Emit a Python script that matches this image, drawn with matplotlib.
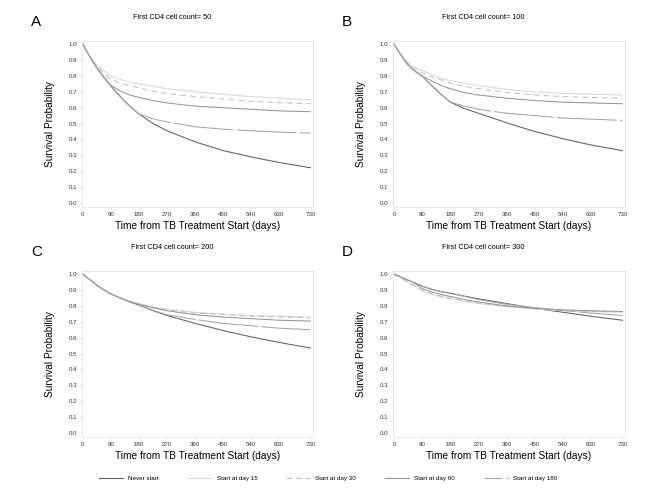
import matplotlib
matplotlib.use("Agg")
import matplotlib.pyplot as plt
from matplotlib.lines import Line2D

plt.rcParams['font.family'] = ['Liberation Sans', 'DejaVu Sans']
plt.rcParams['lines.scale_dashes'] = False

days = [0, 15, 30, 45, 60, 90, 120, 150, 180, 225, 270, 360, 450, 540, 630, 730]

series_names = ["Never start", "Start at day 15", "Start at day 30",
                "Start at day 60", "Start at day 180"]

# panel A, first CD4 = 50
a_never = [1.0, 0.945, 0.895, 0.85, 0.81, 0.735, 0.67, 0.61, 0.56, 0.50, 0.455, 0.385, 0.33, 0.29, 0.255, 0.222]
a_d15 = [1.0, 0.945, 0.90, 0.87, 0.845, 0.80, 0.78, 0.76, 0.75, 0.735, 0.72, 0.70, 0.685, 0.67, 0.66, 0.65]
a_d30 = [1.0, 0.945, 0.895, 0.86, 0.83, 0.78, 0.755, 0.74, 0.725, 0.705, 0.69, 0.67, 0.655, 0.64, 0.632, 0.625]
a_d60 = [1.0, 0.945, 0.895, 0.85, 0.81, 0.74, 0.705, 0.68, 0.665, 0.645, 0.63, 0.61, 0.60, 0.59, 0.58, 0.575]
a_d180 = [1.0, 0.945, 0.895, 0.85, 0.81, 0.735, 0.67, 0.61, 0.56, 0.53, 0.51, 0.48, 0.465, 0.455, 0.447, 0.44]

# panel B, first CD4 = 100
b_never = [1.0, 0.955, 0.91, 0.87, 0.84, 0.80, 0.74, 0.685, 0.635, 0.595, 0.565, 0.505, 0.45, 0.405, 0.365, 0.33]
b_d15 = [1.0, 0.955, 0.915, 0.885, 0.86, 0.835, 0.81, 0.785, 0.77, 0.755, 0.74, 0.715, 0.70, 0.69, 0.685, 0.68]
b_d30 = [1.0, 0.955, 0.91, 0.875, 0.85, 0.82, 0.795, 0.775, 0.755, 0.735, 0.72, 0.695, 0.68, 0.67, 0.665, 0.66]
b_d60 = [1.0, 0.955, 0.91, 0.87, 0.84, 0.80, 0.77, 0.74, 0.72, 0.695, 0.68, 0.66, 0.645, 0.635, 0.63, 0.625]
b_d180 = [1.0, 0.955, 0.91, 0.87, 0.84, 0.80, 0.74, 0.685, 0.635, 0.61, 0.59, 0.565, 0.55, 0.535, 0.528, 0.52]

# panel C, first CD4 = 200
c_never = [1.0, 0.975, 0.955, 0.93, 0.91, 0.875, 0.85, 0.825, 0.805, 0.77, 0.74, 0.69, 0.645, 0.605, 0.57, 0.535]
c_d15 = [1.0, 0.975, 0.955, 0.93, 0.91, 0.875, 0.85, 0.83, 0.815, 0.795, 0.78, 0.76, 0.75, 0.74, 0.735, 0.73]
c_d30 = [1.0, 0.975, 0.955, 0.93, 0.91, 0.875, 0.85, 0.828, 0.81, 0.79, 0.775, 0.755, 0.745, 0.735, 0.73, 0.725]
c_d60 = [1.0, 0.975, 0.955, 0.93, 0.91, 0.875, 0.85, 0.828, 0.81, 0.788, 0.77, 0.745, 0.73, 0.72, 0.71, 0.705]
c_d180 = [1.0, 0.975, 0.955, 0.93, 0.91, 0.875, 0.85, 0.825, 0.805, 0.772, 0.745, 0.715, 0.69, 0.675, 0.66, 0.65]

# panel D, first CD4 = 300
d_never = [1.0, 0.988, 0.975, 0.962, 0.95, 0.925, 0.905, 0.89, 0.88, 0.862, 0.845, 0.815, 0.785, 0.76, 0.735, 0.71]
d_d15 = [1.0, 0.985, 0.965, 0.945, 0.93, 0.895, 0.872, 0.857, 0.845, 0.828, 0.815, 0.795, 0.78, 0.77, 0.765, 0.76]
d_d30 = [1.0, 0.988, 0.97, 0.95, 0.933, 0.90, 0.877, 0.862, 0.85, 0.832, 0.818, 0.797, 0.782, 0.772, 0.766, 0.762]
d_d60 = [1.0, 0.988, 0.975, 0.962, 0.95, 0.91, 0.888, 0.872, 0.86, 0.84, 0.825, 0.80, 0.785, 0.775, 0.77, 0.765]
d_d180 = [1.0, 0.988, 0.975, 0.962, 0.95, 0.925, 0.905, 0.89, 0.88, 0.86, 0.84, 0.81, 0.79, 0.772, 0.755, 0.74]

panel_letters = ["A", "B", "C", "D"]
panel_titles = ["First CD4 cell count= 50", "First CD4 cell count= 100",
                "First CD4 cell count= 200", "First CD4 cell count= 300"]
panel_data = [
    [a_never, a_d15, a_d30, a_d60, a_d180],
    [b_never, b_d15, b_d30, b_d60, b_d180],
    [c_never, c_d15, c_d30, c_d60, c_d180],
    [d_never, d_d15, d_d30, d_d60, d_d180],
]

xticks = [0, 90, 180, 270, 360, 450, 540, 630, 730]
yticks = [0.0, 0.1, 0.2, 0.3, 0.4, 0.5, 0.6, 0.7, 0.8, 0.9, 1.0]

colors = ["#606060", "#d8d8d8", "#c0c0c0", "#959595", "#a5a5a5"]
styles = ["-", "-", (0, (4, 3)), "-", (0, (43, 2.5))]

W, H = 656, 492
fig = plt.figure(figsize=(W / 100, H / 100), dpi=100)

# pixel boxes: left, top, right, bottom
boxes = [(82, 41, 313, 207), (393, 41, 625, 207),
         (82, 271, 313, 437), (393, 271, 625, 437)]

for i, (l, t, r, b) in enumerate(boxes):
    ax = fig.add_axes([l / W, 1 - b / H, (r - l) / W, (b - t) / H])
    for vals, c, ls in zip(panel_data[i], colors, styles):
        ax.plot(days, vals, color=c, linestyle=ls, linewidth=0.75)
    ax.set_xlim(-3, 738)
    ax.set_ylim(-0.025, 1.02)
    ax.set_xticks(xticks)
    ax.set_yticks(yticks)
    ax.set_yticklabels(["%.1f" % v for v in yticks])
    ax.tick_params(labelsize=4.4, length=1.5, width=0.4, color="#cccccc",
                   labelcolor="#333333", pad=2)
    for sp in ax.spines.values():
        sp.set_color("#e4e4e4")
        sp.set_linewidth(0.6)
    ax.set_xlabel("Time from TB Treatment Start (days)", fontsize=7.3, labelpad=3)
    ax.set_ylabel("Survival Probability", fontsize=7.3, labelpad=10)
    ax.text(-0.22, 1.115, panel_letters[i], transform=ax.transAxes, fontsize=11,
            ha="left", va="center")
    ax.text(0.39, 1.14, panel_titles[i], transform=ax.transAxes, fontsize=5.3,
            ha="center", va="center")

handles = [Line2D([], [], color=c, linestyle=ls, linewidth=0.8)
           for c, ls in zip(colors, styles)]
handles[4] = Line2D([], [], color=colors[4], linestyle=(0, (13, 2.5, 2, 20)),
                    linewidth=0.8)
fig.legend(handles, series_names, loc="center", bbox_to_anchor=(0.5, 1 - 478 / H),
           ncol=5, frameon=False, fontsize=4.5, handlelength=3.9,
           columnspacing=4.6, handletextpad=0.8)

fig.savefig("out.png", dpi=100)
